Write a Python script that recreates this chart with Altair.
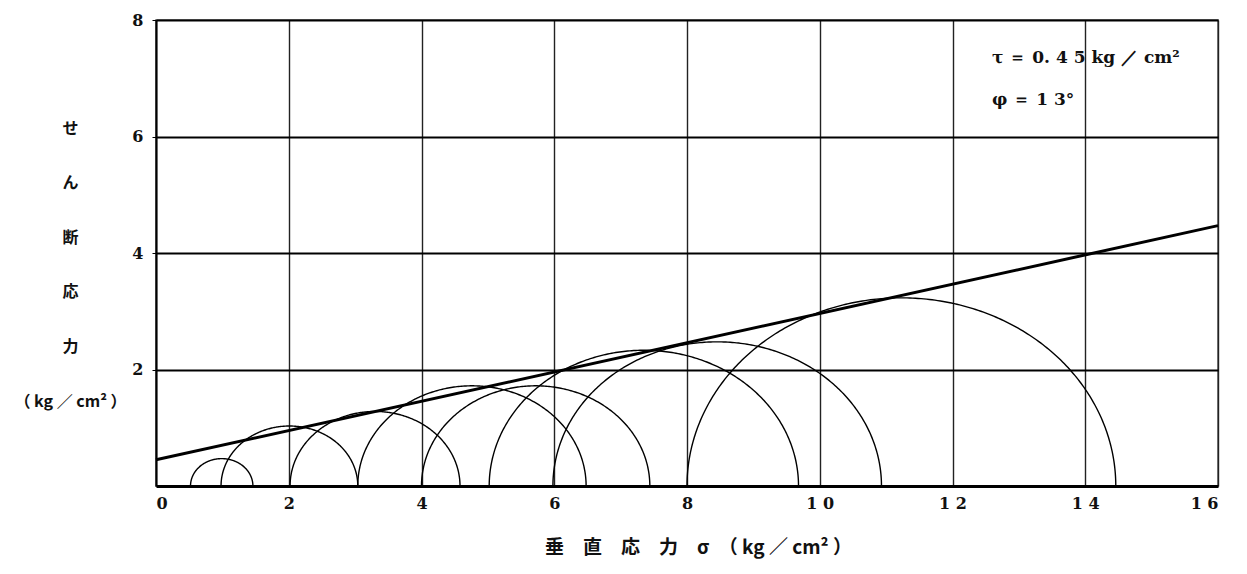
import altair as alt
import numpy as np
import pandas as pd

# Mohr circles: minor and major principal stresses (kg/cm2)
sigma3 = [0.52, 0.98, 2.02, 3.04, 4.00, 5.02, 5.98, 8.00]
sigma1 = [1.46, 3.04, 4.58, 6.48, 7.44, 9.68, 10.93, 14.46]

# Coulomb failure envelope as drawn
env_x = [0, 16]
env_y = [0.45, 4.47]

x_ticks = [0, 2, 4, 6, 8, 10, 12, 14, 16]
y_ticks = [2, 4, 6, 8]

# build semicircle tables from the circle definitions
rows = []
theta = np.linspace(0, np.pi, 241)
for i, (s3, s1) in enumerate(zip(sigma3, sigma1)):
    c = (s1 + s3) / 2
    r = (s1 - s3) / 2
    for k, t in enumerate(theta):
        rows.append({"circle": i, "k": k, "x": c - r * np.cos(t), "y": r * np.sin(t)})
circles = pd.DataFrame(rows)
env = pd.DataFrame({"x": env_x, "y": env_y})

num_font = "DejaVu Serif"
jp_font = "Noto Sans CJK JP"

xscale = alt.Scale(domain=[0, 16], nice=False, zero=False)
yscale = alt.Scale(domain=[0, 8], nice=False, zero=False)

xaxis = alt.Axis(
    values=x_ticks, format="d",
    title="垂　直　応　力　σ　（ kg ／ cm² ）",
    titleFont=jp_font, titleFontSize=19, titleFontWeight="bold", titleColor="#111",
    titleX=542, titleY=61, titleBaseline="middle", titleAlign="center",
    labelFont=num_font, labelFontSize=16, labelFontWeight="bold", labelColor="#111",
    labelPadding=9,
    labelExpr="length(datum.label) > 1 ? substring(datum.label,0,1) + ' ' + substring(datum.label,1) : datum.label",
    grid=True, gridColor="#222", gridWidth=1.4, gridOpacity=1,
    domainColor="#000", domainWidth=3, ticks=False,
)
yaxis = alt.Axis(
    values=y_ticks, format="d",
    title=["せ", "ん", "断", "応", "力", "（ kg ／ cm² ）"],
    titleFont=jp_font, titleFontSize=16, titleFontWeight="bold", titleColor="#111",
    titleAngle=0, titleAlign="center", titleBaseline="top", titleLineHeight=54.6,
    titleX=-86, titleY=100,
    labelFont=num_font, labelFontSize=16, labelFontWeight="bold", labelColor="#111",
    labelPadding=9,
    grid=True, gridColor="#000", gridWidth=2.2, gridOpacity=1,
    domainColor="#000", domainWidth=2, ticks=True, tickSize=4, tickColor="#000",
)

circ = alt.Chart(circles).mark_line(color="#000", strokeWidth=1.4).encode(
    x=alt.X("x:Q", scale=xscale, axis=xaxis),
    y=alt.Y("y:Q", scale=yscale, axis=yaxis),
    detail="circle:N",
    order="k:Q",
)

line = alt.Chart(env).mark_line(color="#000", strokeWidth=3).encode(
    x=alt.X("x:Q", scale=xscale),
    y=alt.Y("y:Q", scale=yscale),
)

ann1 = alt.Chart(pd.DataFrame({"t": ["τ ＝ 0. 4 5  kg ／ cm²"]})).mark_text(
    font=num_font, fontSize=17, fontWeight="bold", align="left", baseline="middle", color="#111"
).encode(text="t:N", x=alt.value(836), y=alt.value(38))

ann2 = alt.Chart(pd.DataFrame({"t": ["φ ＝ 1 3°"]})).mark_text(
    font=num_font, fontSize=17, fontWeight="bold", align="left", baseline="middle", color="#111"
).encode(text="t:N", x=alt.value(836), y=alt.value(80))

chart = alt.layer(circ, line, ann1, ann2).properties(
    width=1062, height=466,
    autosize=alt.AutoSizeParams(type="none"),
    padding={"left": 148, "top": 12, "right": 20, "bottom": 80},
    background="white",
).configure_view(stroke="#555", strokeWidth=1.5)

chart.save("out.html", embed_options={"renderer": "svg", "actions": False})
